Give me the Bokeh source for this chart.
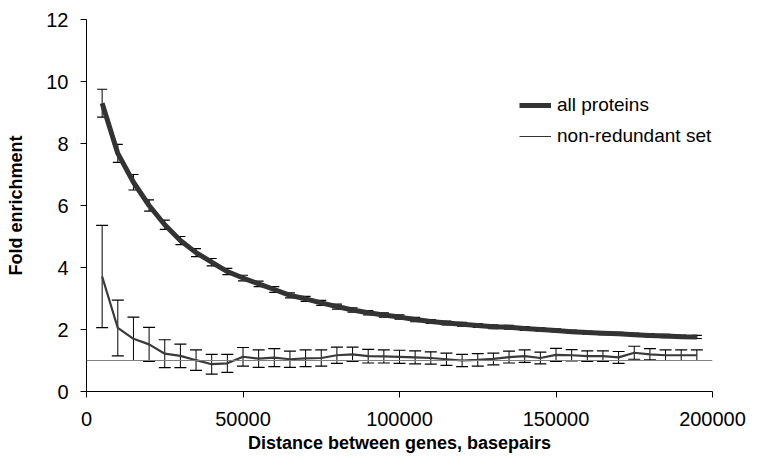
from bokeh.plotting import figure
from bokeh.models import (ColumnDataSource, Whisker, TeeHead, Span, Legend, LegendItem,
                          FixedTicker, NumeralTickFormatter, Range1d)
from bokeh.embed import file_html
from bokeh.resources import INLINE

distance = [5000, 10000, 15000, 20000, 25000, 30000, 35000, 40000, 45000, 50000,
            55000, 60000, 65000, 70000, 75000, 80000, 85000, 90000, 95000, 100000,
            105000, 110000, 115000, 120000, 125000, 130000, 135000, 140000, 145000, 150000,
            155000, 160000, 165000, 170000, 175000, 180000, 185000, 190000, 195000]

all_proteins = [9.30, 7.68, 6.75, 6.00, 5.38, 4.87, 4.48, 4.17, 3.87, 3.66,
                3.47, 3.29, 3.10, 2.99, 2.86, 2.74, 2.63, 2.54, 2.47, 2.40,
                2.32, 2.26, 2.21, 2.17, 2.13, 2.09, 2.07, 2.03, 2.00, 1.97,
                1.93, 1.90, 1.88, 1.86, 1.83, 1.81, 1.79, 1.77, 1.76]
all_err = [0.45, 0.29, 0.25, 0.18, 0.15, 0.13, 0.13, 0.12, 0.10, 0.09,
           0.09, 0.09, 0.08, 0.08, 0.08, 0.08, 0.07, 0.07, 0.07, 0.07,
           0.07, 0.06, 0.06, 0.06, 0.06, 0.06, 0.06, 0.06, 0.05, 0.05,
           0.05, 0.05, 0.05, 0.05, 0.05, 0.05, 0.05, 0.05, 0.05]

non_redundant = [3.71, 2.05, 1.70, 1.52, 1.22, 1.15, 1.01, 0.88, 0.91, 1.12,
                 1.06, 1.09, 1.04, 1.07, 1.08, 1.17, 1.20, 1.14, 1.13, 1.12,
                 1.10, 1.08, 1.04, 1.00, 1.02, 1.05, 1.11, 1.14, 1.08, 1.18,
                 1.17, 1.14, 1.14, 1.10, 1.25, 1.20, 1.17, 1.17, 1.17]
nr_err = [1.65, 0.90, 0.70, 0.55, 0.45, 0.38, 0.33, 0.32, 0.29, 0.30,
          0.28, 0.29, 0.26, 0.27, 0.26, 0.26, 0.23, 0.22, 0.21, 0.21,
          0.21, 0.20, 0.20, 0.20, 0.20, 0.19, 0.19, 0.20, 0.19, 0.21,
          0.18, 0.17, 0.17, 0.19, 0.21, 0.18, 0.17, 0.17, 0.17]

baseline = 1.0
x_ticks = [0, 50000, 100000, 150000, 200000]
y_ticks = [0, 2, 4, 6, 8, 10, 12]

FONT = "Liberation Sans"
NAN = float("nan")

src_all = ColumnDataSource(dict(
    x=distance, y=all_proteins,
    lo=[v - e for v, e in zip(all_proteins, all_err)],
    hi=[v + e for v, e in zip(all_proteins, all_err)]))
src_nr = ColumnDataSource(dict(
    x=distance, y=non_redundant,
    lo=[v - e for v, e in zip(non_redundant, nr_err)],
    hi=[v + e for v, e in zip(non_redundant, nr_err)]))

p = figure(width=746, height=458, output_backend="svg", toolbar_location=None,
           x_range=Range1d(0, 200000), y_range=Range1d(0, 12),
           min_border_left=86, min_border_right=34, min_border_top=19, min_border_bottom=67)
p.outline_line_color = None
p.xgrid.visible = False
p.ygrid.visible = False
p.background_fill_color = "white"

# baseline at 1
p.add_layout(Span(location=baseline, dimension="width", line_color="#808080", line_width=1))

r_nr = p.line("x", "y", source=src_nr, line_color="#3a3a3a", line_width=2.2)
r_all = p.line("x", "y", source=src_all, line_color="#333333", line_width=5)

for s, sz in ((src_all, 10), (src_nr, 12)):
    w = Whisker(source=s, base="x", lower="lo", upper="hi",
                line_color="black", line_width=1,
                upper_head=TeeHead(size=sz, line_color="black", line_width=1.2),
                lower_head=TeeHead(size=sz, line_color="black", line_width=1.2))
    p.add_layout(w)

# legend-only renderers (no visible data)
leg_all = p.line(x=[NAN, NAN], y=[NAN, NAN], line_color="#333333", line_width=5)
leg_nr = p.line(x=[NAN, NAN], y=[NAN, NAN], line_color="#333333", line_width=1)

legend = Legend(items=[LegendItem(label="all proteins", renderers=[leg_all]),
                       LegendItem(label="non-redundant set", renderers=[leg_nr])],
                location=(433, 244), background_fill_alpha=0, border_line_color=None,
                padding=0, margin=0, spacing=9, glyph_width=32, glyph_height=22,
                label_height=22, label_standoff=6,
                label_text_font=FONT, label_text_font_size="19px", label_text_color="black")
p.add_layout(legend)

for ax in (p.xaxis[0], p.yaxis[0]):
    ax.axis_line_color = "black"
    ax.axis_line_width = 1
    ax.major_tick_line_color = "black"
    ax.major_tick_out = 6
    ax.major_tick_in = 0
    ax.minor_tick_line_color = None
    ax.major_label_text_font = FONT
    ax.major_label_text_font_size = "20px"
    ax.major_label_text_color = "black"
    ax.axis_label_text_font = FONT
    ax.axis_label_text_font_style = "bold"
    ax.axis_label_text_font_size = "18px"
    ax.axis_label_text_color = "black"

p.xaxis.ticker = FixedTicker(ticks=x_ticks)
p.yaxis.ticker = FixedTicker(ticks=y_ticks)
p.xaxis.formatter = NumeralTickFormatter(format="0")
p.xaxis.axis_label = "Distance between genes, basepairs"
p.yaxis.axis_label = "Fold enrichment"
p.xaxis.major_label_standoff = 14
p.yaxis.major_label_standoff = 12
p.xaxis.axis_label_standoff = 4
p.yaxis.axis_label_standoff = 17

open("out.html", "w").write(file_html(p, INLINE))
